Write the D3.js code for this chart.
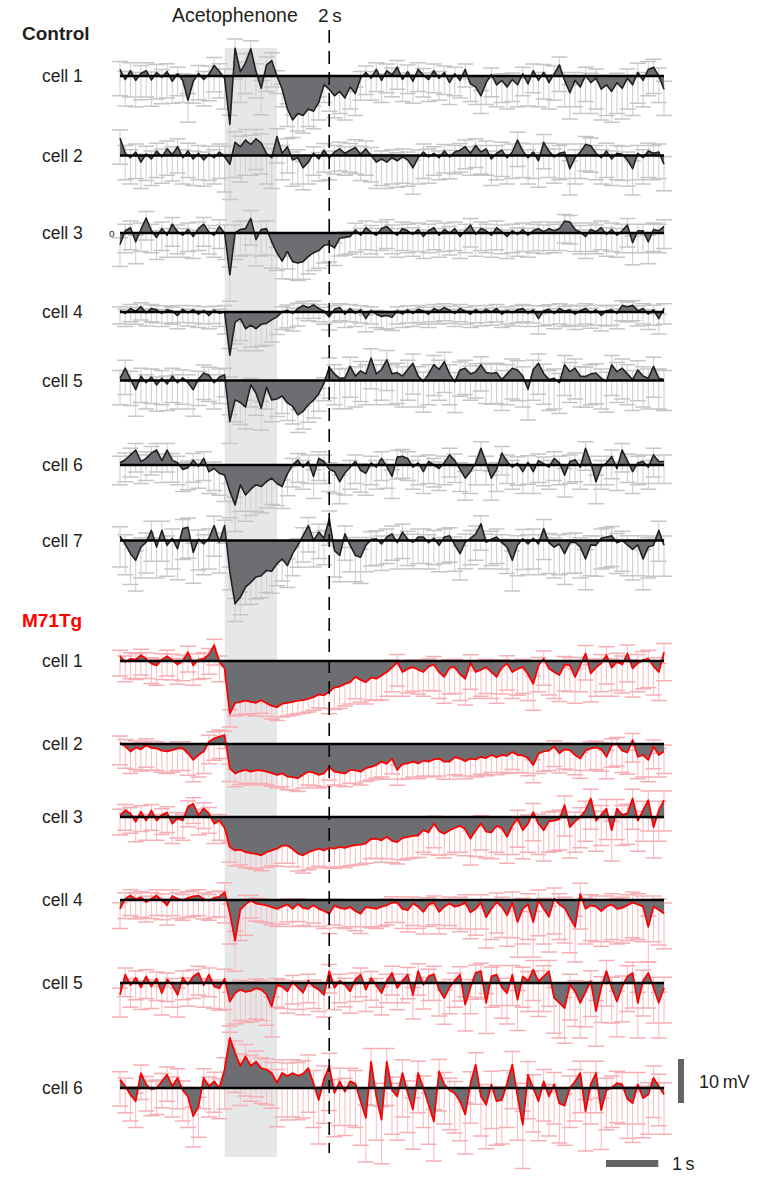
<!DOCTYPE html>
<html><head><meta charset="utf-8">
<script src="https://cdn.jsdelivr.net/npm/d3@7"></script>
<style>body{margin:0;background:#fff}svg{display:block}text{font-family:"Liberation Sans",Arial,sans-serif;fill:#231f20}</style>
</head><body><svg id="c" width="767" height="1185"></svg>
<script>
// sampling: one value every 0.1 s, starting 2 s before odour onset
const sampleStart = -2, sampleStep = 0.1;
const stimulus = [0, 1];        // s, acetophenone on/off
const marker = 2;               // s, dashed line
const scaleTime = 1;            // s
const scaleVolt = 10;           // mV
const groupNames = ["Control", "M71Tg"];
const cellLabels = ["cell 1","cell 2","cell 3","cell 4","cell 5","cell 6","cell 7","cell 1","cell 2","cell 3","cell 4","cell 5","cell 6"];

// mean membrane potential change (mV) per cell
const ctrl1=[1.5,-0.8,1.2,-1.0,0.6,1.2,-0.9,0.8,-0.3,1.0, -1.2,0.5,-1.0,-5.5,-1.2,0.6,-0.8,0.4,2.4,1.0, -0.5,-11.0,6.3,1.0,3.0,6.2,1.0,-2.8,2.5,3.5, 0.0,-3.0,-7.5,-10.0,-8.5,-9.0,-7.5,-8.0,-6.0,-2.0, -3.0,-4.5,-3.5,-5.0,-2.5,-4.0,-0.5,0.8,-0.5,1.5, -1.0,1.2,0.3,2.0,-0.8,1.0,-1.2,1.5,0.2,-0.8, 1.2,-0.5,0.8,-1.5,0.5,-1.0,1.5,-1.8,-2.5,-4.5, -1.5,0.3,-2.0,-1.0,-2.5,-0.8,-2.0,0.5,-1.8,1.2, -1.0,0.8,-1.5,0.5,2.5,-1.0,-3.8,-1.0,-2.5,0.2, -1.5,-0.5,-3.0,-2.0,-3.5,-1.5,-2.8,-0.5,-2.0,0.8, -1.0,1.5,2.0,0.0,-3.0];
const ctrl2=[4.0,0.5,-0.5,0.8,-1.5,0.3,-0.8,1.0,-0.3,1.5, 0.2,2.0,-0.5,1.0,-0.8,0.5,-1.0,0.3,-0.5,0.8, -0.3,-2.0,3.0,2.0,3.5,2.5,3.8,2.8,0.5,-0.5, 4.3,0.5,2.0,-1.0,-0.5,-2.8,-1.5,0.5,-0.8,1.2, -0.5,0.8,1.5,0.5,1.2,1.8,0.3,1.5,0.0,-1.5, -0.8,-1.5,-0.5,-1.2,-0.3,-1.0,-2.8,-0.5,0.8,-0.3, 0.5,-0.5,1.0,-0.3,0.8,1.2,2.0,0.5,2.3,0.8, 1.5,-0.8,0.5,1.2,-0.5,0.8,3.5,1.0,-0.5,0.8, -1.2,3.0,1.0,-0.3,0.5,0.8,-3.0,-0.5,0.8,2.5, 2.2,0.5,-0.5,1.0,-0.8,0.5,0.3,-1.0,-3.0,0.5, -0.5,1.0,0.5,0.8,-2.0];
const ctrl3=[-2.6,0.5,1.2,-2.0,0.8,3.4,0.5,-1.0,1.0,-0.5, 2.0,0.3,-0.5,0.8,-0.8,1.0,2.0,0.2,-0.5,1.5, 0.0,-9.5,0.0,0.8,1.0,3.3,-1.5,0.8,1.0,-2.0, -4.5,-6.4,-4.2,-6.5,-6.8,-6.5,-5.3,-4.5,-4.0,-2.8, -2.6,-3.4,-1.2,-1.0,-0.8,0.7,-0.5,1.2,0.2,-0.5, 1.0,1.5,0.3,-0.5,1.0,0.5,-0.3,0.8,-0.8,0.5, 1.2,-0.5,0.8,0.0,1.0,-0.8,0.5,1.8,-0.3,1.0, 0.5,-0.5,1.2,0.3,-0.8,0.5,-0.3,0.8,-0.5,0.5, 1.0,0.3,1.0,0.5,1.0,2.7,2.5,0.8,0.2,-0.8, 0.8,0.3,1.2,-0.3,0.8,-0.5,0.5,1.8,-2.2,0.5, 0.5,-2.0,0.8,0.5,1.5];
const ctrl4=[0.3,-0.3,0.8,0.2,1.2,-0.2,0.8,0.5,-0.3,0.5, 0.2,-0.8,0.6,-0.2,0.5,-0.5,0.3,-0.8,0.4,-0.3, 0.0,-9.8,-2.3,-1.5,-3.8,-3.0,-3.8,-2.8,-2.6,-1.8, -1.1,0.0,0.4,-0.3,0.8,1.5,1.0,1.6,0.8,0.2, -1.1,0.6,1.0,-0.5,0.8,-0.3,0.5,-1.5,0.3,-0.5, -1.0,-0.8,-1.2,0.3,-0.5,0.5,-0.3,0.6,0.2,-0.5, 0.8,0.3,1.0,0.4,-0.3,0.8,0.2,-0.5,0.5,-0.2, 0.6,0.0,0.8,-0.5,0.3,-0.2,0.5,0.8,-0.3,0.5, -1.5,0.3,0.6,-0.3,0.8,0.2,0.5,-0.5,0.3,0.8, -0.2,0.5,-0.8,0.3,0.5,-0.3,1.5,1.2,1.5,0.3, 0.8,-0.5,0.5,-1.5,0.8];
const ctrl5=[0.5,2.8,0.3,-2.1,1.0,-0.5,0.8,-1.0,0.5,-0.8, 1.0,-0.5,0.6,-0.5,-2.1,0.3,1.7,1.2,-0.5,0.8, 1.3,-9.3,-4.4,-5.0,-6.0,-1.0,-2.9,-6.3,-1.5,-4.4, -4.2,-3.5,-5.1,-5.9,-7.8,-7.0,-5.5,-4.5,-3.0,-0.6, 3.0,1.5,0.5,0.6,3.2,1.0,2.2,1.5,5.1,1.5, 2.5,4.7,1.5,1.8,1.0,2.5,3.9,1.0,-0.2,1.5, 3.6,2.5,4.3,1.5,-0.3,2.4,2.8,1.5,2.0,3.6, 1.8,1.6,1.8,0.2,1.5,2.8,2.4,1.0,-2.0,2.5, 3.9,1.6,0.2,0.5,-0.5,3.6,2.0,2.8,1.0,0.9, 1.5,1.7,0.5,-0.2,3.6,2.0,2.8,1.5,0.2,2.4, 1.0,0.5,3.2,0.5,0.2];
const ctrl6=[0.5,1.2,2.3,3.4,0.8,1.5,2.7,3.4,1.0,3.4, 1.1,0.5,-1.0,-0.6,1.1,-0.3,1.5,-1.5,-0.8,-1.9, -2.3,-6.0,-9.1,-4.5,-6.8,-5.5,-4.5,-4.9,-3.8,-3.0, -4.2,-4.9,-2.0,0.0,1.1,-0.5,0.8,-2.6,1.5,0.8, -1.0,-1.5,-3.8,-1.8,-0.5,0.8,-1.2,-1.9,0.5,-0.5, 1.5,-0.3,-2.6,1.8,2.0,1.5,-0.5,0.5,-1.5,0.8, 0.0,-0.8,0.5,2.3,1.0,-1.0,-3.0,-1.5,0.5,3.8, 0.5,-3.0,-1.0,2.7,0.8,-0.5,0.4,-1.5,0.6,-1.5, 1.0,0.3,-0.5,1.5,0.5,-2.3,0.8,1.2,-0.5,3.8, 0.5,-3.8,-0.5,0.5,1.9,-0.8,3.4,1.0,-1.5,0.5, 0.8,-0.5,2.3,0.8,0.8];
const ctrl7=[1.0,-0.8,-3.0,-4.5,-1.5,-0.4,2.3,-1.5,2.3,-1.1, 0.5,-1.9,2.7,3.0,-2.7,0.3,-0.8,0.5,3.4,-0.4, 3.4,-7.2,-14.4,-12.9,-10.6,-9.5,-8.3,-8.0,-6.8,-7.0, -5.3,-4.2,-5.7,-3.0,-1.1,1.1,3.4,0.0,1.9,0.5, 4.9,-2.3,-3.4,1.5,-1.1,-3.4,-3.8,-1.1,0.2,0.4, -0.8,0.8,1.5,-0.5,1.9,0.3,-0.4,0.8,0.8,-0.5, 0.5,-1.1,0.8,1.1,-1.0,-3.0,-0.4,0.5,1.5,3.8, -0.4,0.3,0.8,-0.5,-1.5,-4.5,-1.0,0.4,-0.8,0.5, -0.8,2.7,-0.5,-1.5,-0.8,-3.0,-0.5,-0.4,-1.5,-4.2, -1.0,-1.1,0.5,0.8,1.1,-0.5,0.0,-1.0,-2.0,-1.0, -4.2,-1.5,-1.1,2.3,-1.1];
const m71_1=[1.1,-0.2,0.5,0.3,1.3,0.5,-0.6,-1.0,0.3,1.1, 0.2,-0.8,0.0,2.0,-1.0,0.3,0.5,1.5,3.6,-0.2, -1.7,-12.0,-9.5,-9.3,-9.0,-9.3,-9.5,-8.9,-9.6,-10.2, -10.5,-9.7,-9.5,-9.3,-9.0,-8.9,-8.6,-8.2,-7.6,-7.8, -7.0,-6.0,-5.8,-5.2,-4.8,-3.6,-4.3,-4.8,-3.8,-4.0, -3.3,-2.5,-1.5,-0.2,-2.5,-1.8,-1.4,-2.0,-2.5,-1.2, -0.8,-2.5,-3.6,-1.5,-1.4,-3.0,-4.0,-0.4,-2.5,-2.0, -1.4,-2.5,-3.6,-1.5,-0.6,-2.5,-1.8,-1.4,-3.0,-5.2, -1.0,0.5,-1.7,-2.5,-3.2,-0.8,-1.0,-3.6,-1.0,1.7, -2.8,-1.5,-0.5,1.3,-1.5,-0.2,-0.8,1.7,-1.7,-0.5, 0.2,0.5,-1.2,-2.5,2.0];
const m71_2=[0.3,-0.5,-1.7,-0.8,-1.2,-0.3,-0.9,-1.0,-1.5,-1.7, -1.4,-1.0,-1.0,-2.1,-3.6,-2.5,-1.7,0.5,1.3,1.7, 2.0,-5.5,-6.7,-6.2,-5.9,-6.3,-6.0,-6.0,-6.3,-6.6, -7.0,-6.7,-7.4,-7.5,-7.8,-7.0,-6.3,-6.5,-7.0,-6.7, -5.2,-6.3,-6.5,-6.7,-5.9,-6.0,-6.3,-5.5,-5.2,-4.8, -4.0,-4.5,-3.3,-5.9,-4.5,-4.4,-4.0,-4.4,-3.8,-4.0, -3.5,-3.3,-4.0,-4.0,-3.0,-3.3,-3.9,-3.3,-3.5,-2.9, -3.2,-2.5,-3.0,-2.5,-2.7,-1.8,-2.5,-2.6,-3.2,-4.8, -2.2,-1.7,-1.5,-0.6,-2.1,-1.2,-1.4,-2.5,-3.3,-1.5, -1.0,-0.8,-1.2,-2.9,-0.3,0.0,-1.5,-1.9,0.9,-2.9, -2.5,-3.6,-0.6,-2.5,-1.7];
const m71_3=[0.4,1.5,0.8,-1.1,1.2,-0.8,1.5,-0.8,0.5,1.0, -1.5,-0.3,-0.8,2.3,3.0,0.4,1.9,0.8,-1.5,-0.8, -2.5,-6.8,-7.6,-7.4,-8.0,-8.2,-8.4,-8.7,-8.0,-7.6, -7.2,-6.5,-6.5,-7.3,-8.3,-8.7,-8.0,-7.6,-7.2,-7.6, -7.0,-7.2,-6.8,-7.0,-6.6,-6.4,-6.3,-6.0,-5.0,-4.9, -5.3,-4.5,-5.4,-5.7,-4.8,-4.5,-4.3,-4.2,-3.0,-3.5, -1.5,-3.2,-3.8,-3.0,-2.5,-2.0,-2.8,-4.9,-3.0,-1.5, -3.3,-3.5,-2.0,-2.5,-4.5,-2.0,-0.4,-3.0,-1.5,1.1, -1.5,-3.0,-1.0,-0.8,-0.5,2.7,-2.3,-1.0,0.0,1.5, 4.2,-0.8,0.5,1.9,-3.0,1.9,0.5,0.8,4.2,-0.8, 1.5,3.8,-2.3,1.5,3.8];
const m71_4=[-2.0,0.3,1.0,0.2,0.6,-0.5,0.3,1.0,0.0,-1.2, 0.9,0.3,-0.1,0.5,0.8,1.0,0.2,-0.1,0.5,0.7, 1.8,-3.0,-9.2,-2.2,-1.0,-0.1,-0.8,-1.0,-1.2,-1.6, -2.0,-1.5,-1.0,-2.0,-0.9,-1.8,-2.0,-1.2,-2.0,-2.5, -3.1,-1.2,-1.8,-2.0,-1.6,-2.5,-3.1,-1.6,-1.8,-2.0, -1.5,-1.2,-0.6,-0.6,-2.0,-2.3,-0.8,-1.5,-2.7,-1.0, -0.6,-2.7,-1.5,-0.8,-1.5,-1.2,-0.6,-2.8,-2.0,-0.6, -3.9,-2.0,-0.5,-1.5,-3.5,-0.6,-5.0,-2.0,-1.0,-5.0, -0.1,-2.0,-3.8,0.3,-1.0,-1.8,-4.0,-6.1,1.4,-2.0, -1.2,-1.5,-2.5,-1.5,-1.0,-2.0,-1.8,-1.2,-0.6,-1.0, -1.5,-6.1,-1.5,-2.2,-3.1];
const m71_5=[-2.7,1.9,-0.5,1.2,-1.0,1.5,-0.8,1.0,-2.3,0.8, -0.5,-2.7,1.2,-0.3,1.5,2.3,-0.5,1.9,-0.8,-1.2, 1.0,-4.2,-2.3,-1.5,-2.0,-1.8,-1.2,-1.5,-2.6,-5.3, -0.5,-0.8,-1.9,0.2,-1.0,-2.2,0.5,-0.8,-1.5,-2.7, 2.7,-1.1,0.5,-0.4,-1.9,0.8,1.9,-1.5,1.1,-0.5, -2.3,0.5,2.3,-1.1,0.5,1.9,-2.7,2.7,-0.4,1.5, 2.0,-1.5,-3.4,-1.0,0.5,1.9,-4.9,-1.0,2.3,2.7, -4.5,1.5,1.9,-1.0,-2.3,1.9,-3.8,1.5,0.5,3.0, 0.4,1.5,2.7,-3.4,-4.5,-5.7,-0.4,-1.9,-4.5,-2.0, 0.4,-6.4,-1.0,2.7,-1.1,-4.2,-0.8,1.5,2.3,-4.5, 0.5,2.3,-1.1,-4.5,-1.1];
const m71_6=[1.9,0.4,-1.5,-3.0,3.4,0.8,-0.3,0.0,1.5,3.0, 0.4,2.3,-0.5,-2.0,-6.4,-4.2,2.3,0.4,1.5,0.0, 4.2,11.4,8.0,5.0,7.2,5.0,6.0,4.5,4.2,3.4, 1.2,3.4,2.7,3.4,2.8,3.2,4.5,1.0,-2.7,2.0, 4.9,-1.1,1.5,-0.8,1.5,1.0,-3.0,-6.8,6.0,-1.9, -7.2,6.0,-0.5,-1.9,3.4,-1.1,-4.9,3.4,0.0,-3.8, -7.6,3.8,0.8,-0.5,-1.2,-3.0,-6.0,1.0,5.3,-1.9, -3.8,0.8,-3.0,-2.7,1.0,5.3,-1.9,-8.3,3.0,0.0, -3.0,1.5,-1.9,0.8,-3.5,-4.0,0.0,1.5,3.4,-5.3, 0.8,3.4,-5.0,-0.5,0.0,1.1,0.8,-2.5,-3.4,0.8, -2.3,-1.5,2.3,0.4,-1.5];

// spread (mV) for each 0.5 s block of samples
const errBlock = 5;
const ctrl1Err=[6,6,5,6,7,6,4,4,5,5,5,5,5,4,5,5,6,6,7,7,6];
const ctrl2Err=[6,6,6,6,8,7,6,5,5,6,6,6,5,5,6,6,6,6,6,6,6];
const ctrl3Err=[5,5,5,5,6,6,4,4,4,5,5,5,5,5,5,5,5,5,5,5,5];
const ctrl4Err=[3,3,3,3,5,5,4,3,3,3,3,3,3,3,3,3,3.5,3.5,3.5,3.5,3.5];
const ctrl5Err=[6,6,6,6,5,5,4,4,7,7,7,7,7,6,7,7,7,7,7,7,7];
const ctrl6Err=[5,5,5,5,6,6,5,5,5,5,5,5,5,5,5,5,5,5,5,5,5];
const ctrl7Err=[7,7,7,7,4,5,5,6,6,6,6,6,6,6,6,7,7,7,7,7,7];
const m71_1Err=[4.5,4.5,4.5,4.5,3,3,3,3,5,5,5.5,5.5,6,6,6,6,6,6,6.5,6.5,6.5];
const m71_2Err=[5,5,5,5,3,3,3,3,3,3,3.5,3.5,4,4,4,4,4.5,4.5,5,5,5];
const m71_3Err=[4.5,4.5,4.5,4.5,3.5,3.5,4,4,4.5,4.5,5,5,5.5,6,6,6.5,7,7,7,7,7];
const m71_4Err=[4.5,4.5,4.5,4.5,7,4,4,4,4.5,4.5,4.5,5,5,6,7,8,8,8,8,8,8];
const m71_5Err=[5,5,5,5,7,7,5,5,5,5,5,5.5,6,6,7,7,8,8,8,8,8];
const m71_6Err=[6,6,7,7,9,8,10,10,10,10,10,9,9,9,10,10,9,9,9,9,9];

const traces = [
  {v:ctrl1,e:ctrl1Err,g:0},{v:ctrl2,e:ctrl2Err,g:0},{v:ctrl3,e:ctrl3Err,g:0},{v:ctrl4,e:ctrl4Err,g:0},
  {v:ctrl5,e:ctrl5Err,g:0},{v:ctrl6,e:ctrl6Err,g:0},{v:ctrl7,e:ctrl7Err,g:0},
  {v:m71_1,e:m71_1Err,g:1},{v:m71_2,e:m71_2Err,g:1},{v:m71_3,e:m71_3Err,g:1},
  {v:m71_4,e:m71_4Err,g:1},{v:m71_5,e:m71_5Err,g:1},{v:m71_6,e:m71_6Err,g:1}
];

// ---- layout ----
const rowY = [76,155.5,233,312,380.5,465,540.5,661,744,817,900,983,1088];
const x = d3.scaleLinear().domain([sampleStart, sampleStart + sampleStep*104]).range([120, 664]);
const y = d3.scaleLinear().domain([0, 10]).range([0, -44]);   // mV -> offset from row baseline
const lineCol = ["#231f20", "#ff0000"];
const stemCol = ["#d0d0d0", "#f9bec3"];
const capCol = ["#c6c6c6", "#f6afb5"];
const fillCol = "#6d6e71";

const svg = d3.select("#c");

// stimulus band
svg.append("rect").attr("x", x(stimulus[0])).attr("y", 48)
  .attr("width", x(stimulus[1]) - x(stimulus[0])).attr("height", 1157 - 48)
  .attr("fill", "#e6e7e8");

traces.forEach((tr, k) => {
  const g = svg.append("g").attr("transform", `translate(0,${rowY[k]})`);
  const pts = tr.v.map((v, i) => ({t: sampleStart + i*sampleStep, v, e: tr.e[Math.floor(i/errBlock)]}));
  // error bars: stems then caps
  const stems = d3.path(), caps = d3.path();
  pts.forEach(d => {
    const xx = x(d.t), lo = y(d.v - d.e), hi = y(d.v + d.e*0.3);
    stems.moveTo(xx, lo); stems.lineTo(xx, hi);
    caps.moveTo(xx - 8, lo); caps.lineTo(xx + 8, lo);
    caps.moveTo(xx - 8, hi); caps.lineTo(xx + 8, hi);
  });
  g.append("path").attr("d", stems.toString()).attr("stroke", stemCol[tr.g]).attr("stroke-width", 1.1).attr("fill", "none");
  g.append("path").attr("d", caps.toString()).attr("stroke", capCol[tr.g]).attr("stroke-width", 1.5).attr("fill", "none");
  // filled deviation
  g.append("path").datum(pts)
    .attr("d", d3.area().x(d => x(d.t)).y0(y(0)).y1(d => y(d.v)))
    .attr("fill", fillCol);
  // trace
  g.append("path").datum(pts)
    .attr("d", d3.line().x(d => x(d.t)).y(d => y(d.v)))
    .attr("fill", "none").attr("stroke", lineCol[tr.g])
    .attr("stroke-width", tr.g ? 1.8 : 1.6).attr("stroke-linejoin", "round");
  // baseline
  g.append("line").attr("x1", x(sampleStart)).attr("x2", x(sampleStart + sampleStep*104))
    .attr("y1", y(0)).attr("y2", y(0)).attr("stroke", "#000").attr("stroke-width", 2.6);
  // label
  svg.append("text").attr("x", 42).attr("y", rowY[k] + 6).attr("font-size", 17.5).text(cellLabels[k]);
});

// stray mark next to control cell 3
svg.append("text").attr("x", 109).attr("y", rowY[2] + 4).attr("font-size", 10).text("o");

// dashed 2 s marker
svg.append("line").attr("x1", x(marker)).attr("x2", x(marker)).attr("y1", 30).attr("y2", 1153)
  .attr("stroke", "#000").attr("stroke-width", 1.6).attr("stroke-dasharray", "13,8");

// titles
svg.append("text").attr("x", 172).attr("y", 22).attr("font-size", 19.5).text("Acetophenone");
svg.append("text").attr("x", 318).attr("y", 22).attr("font-size", 19).text(marker + "\u2009s");
svg.append("text").attr("x", 22).attr("y", 40).attr("font-size", 19).attr("font-weight", "bold").text(groupNames[0]);
svg.append("text").attr("x", 22).attr("y", 627).attr("font-size", 19).attr("font-weight", "bold")
  .style("fill", "#ff0000").text(groupNames[1]);

// scale bars
const sbTop = 1059;
svg.append("rect").attr("x", 678).attr("y", sbTop).attr("width", 6).attr("height", y(0) - y(scaleVolt)).attr("fill", "#636466");
svg.append("text").attr("x", 699).attr("y", sbTop + (y(0) - y(scaleVolt))/2 + 7).attr("font-size", 18).text(scaleVolt + "\u202FmV");
svg.append("rect").attr("x", 606).attr("y", 1160).attr("width", x(scaleTime) - x(0)).attr("height", 7).attr("fill", "#636466");
svg.append("text").attr("x", 672).attr("y", 1170).attr("font-size", 18).text(scaleTime + "\u202Fs");
</script></body></html>
